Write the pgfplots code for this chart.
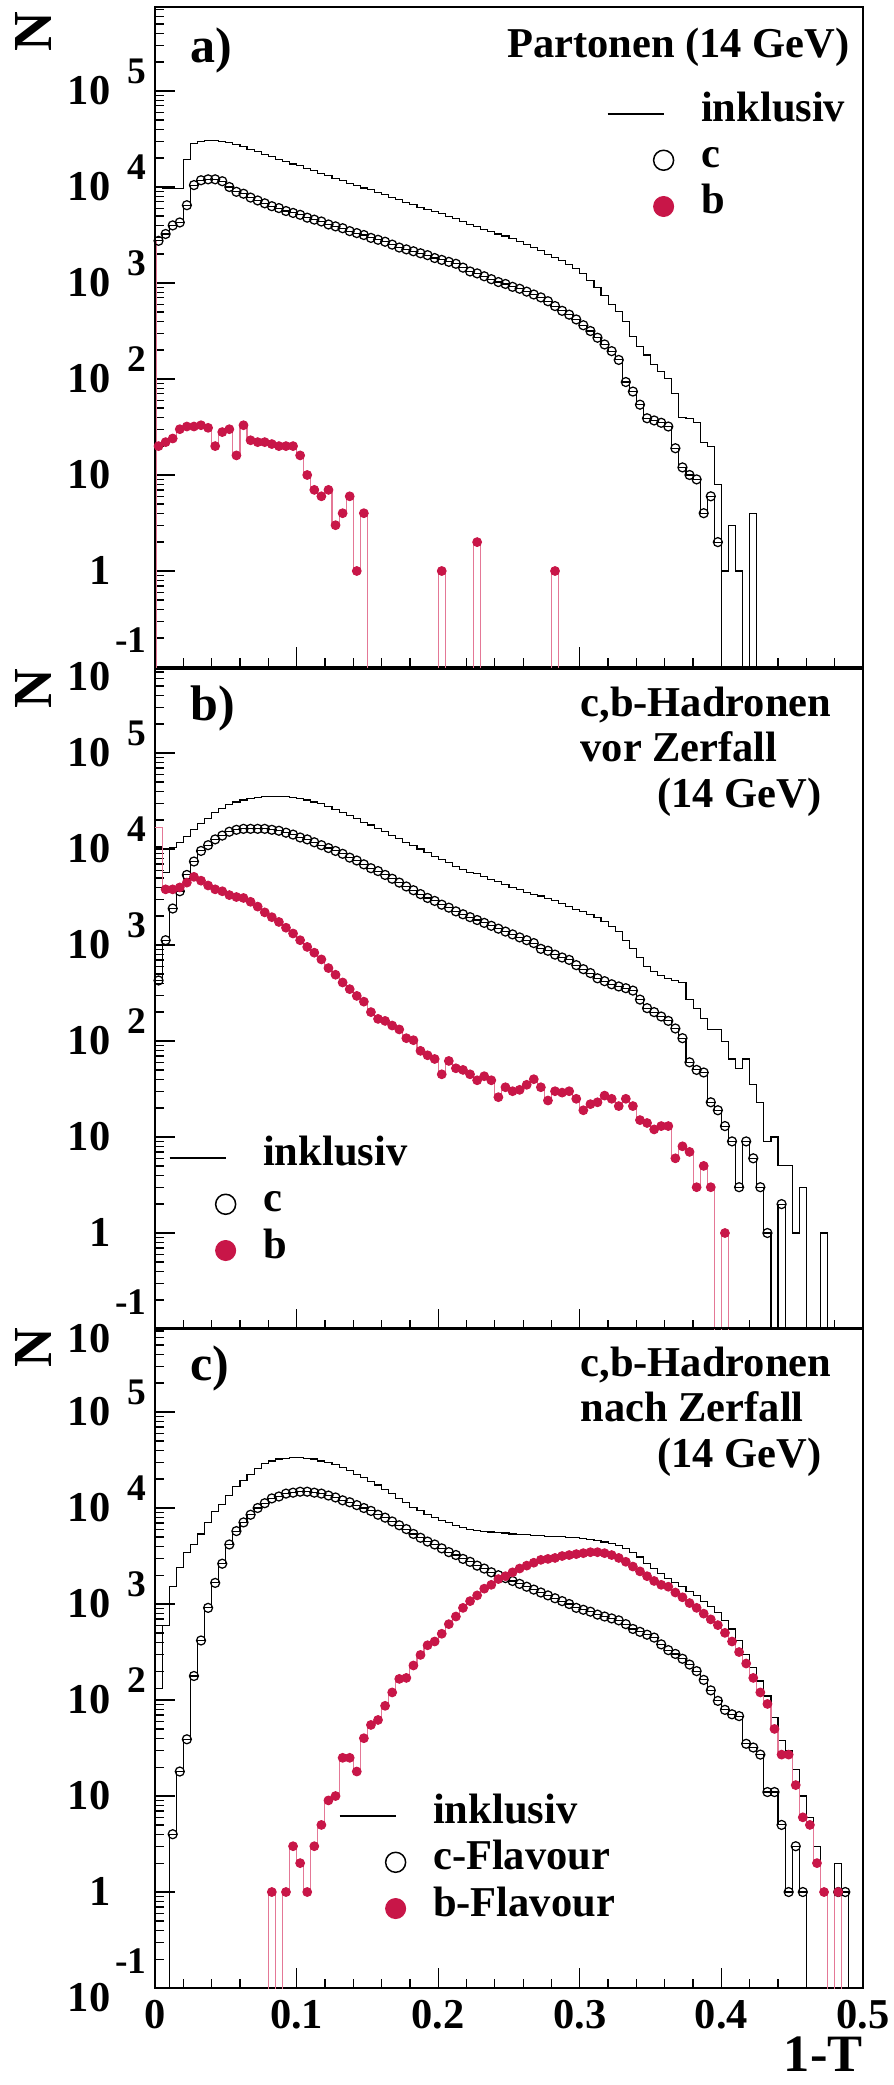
\documentclass[border=0pt]{standalone}
\usepackage{fontspec}
\setmainfont{Liberation Serif}
\usepackage{pgfplots}
\usepackage{pgfplotstable}
\pgfplotsset{compat=1.18}
\definecolor{bred}{RGB}{200,22,72}
\definecolor{bpink}{RGB}{228,120,150}
\newcommand{\fs}[1]{\fontsize{#1}{#1}\selectfont}
\newcommand{\yl}[4]{\makebox[0pt][r]{\smash{\raisebox{#3}{#1}}}\makebox[14.5pt][r]{\smash{\raisebox{#4}{\fs{15}#2}}}\vphantom{0}}

\pgfplotstableread{
x inc c b
0.0025 10000 2750 20
0.0075 9550 3240 22
0.0125 9550 3980 24
0.0175 9550 4270 30
0.0225 19500 6460 32
0.0275 28180 10470 32
0.0325 29510 11750 33
0.0375 30200 12020 31
0.0425 30200 12020 20
0.0475 29510 11480 28
0.0525 28840 10000 30
0.0575 27540 8910 16
0.0625 26300 8510 33
0.0675 24550 7760 23
0.0725 23440 7240 22
0.0775 21880 6760 22
0.0825 20890 6310 21
0.0875 19500 6030 20
0.0925 18620 5620 20
0.0975 17380 5370 20
0.1025 16600 5130 16
0.1075 15490 4790 10
0.1125 14790 4570 7
0.1175 13800 4370 6
0.1225 13180 4070 7
0.1275 12300 3890 3
0.1325 11750 3720 4
0.1375 10960 3470 6
0.1425 10470 3310 1
0.1475 9770 3160 4
0.1525 9330 2950 0
0.1575 8710 2820 0
0.1625 8320 2690 0
0.1675 7760 2510 0
0.1725 7410 2340 0
0.1775 6920 2240 0
0.1825 6610 2140 0
0.1875 6170 2040 0
0.1925 5890 1950 0
0.1975 5500 1820 0
0.2025 5250 1740 1
0.2075 4900 1660 0
0.2125 4680 1585 0
0.2175 4370 1445 0
0.2225 4070 1318 0
0.2275 3890 1259 2
0.2325 3630 1175 0
0.2375 3470 1096 0
0.2425 3240 1023 0
0.2475 3090 977 0
0.2525 2880 912 0
0.2575 2690 871 0
0.2625 2510 813 0
0.2675 2340 759 0
0.2725 2190 708 0
0.2775 2000 646 0
0.2825 1860 575 1
0.2875 1700 513 0
0.2925 1550 468 0
0.2975 1410 417 0
0.3025 1260 363 0
0.3075 1070 316 0
0.3125 890 269 0
0.3175 740 229 0
0.3225 600 195 0
0.3275 510 158 0
0.3325 400 93 0
0.3375 280 74 0
0.3425 220 54 0
0.3475 178 39 0
0.3525 141 37 0
0.3575 120 35 0
0.3625 102 32 0
0.3675 71 19 0
0.3725 40 12 0
0.3775 39 10 0
0.3825 35 9 0
0.3875 22 4 0
0.3925 20 6 0
0.3975 8 2 0
0.4025 1 0 0
0.4075 3 0 0
0.4125 1 0 0
0.4175 0 0 0
0.4225 4 0 0
0.4275 0 0 0
0.4325 0 0 0
0.4375 0 0 0
0.4425 0 0 0
0.4475 0 0 0
0.4525 0 0 0
0.4575 0 0 0
0.4625 0 0 0
0.4675 0 0 0
0.4725 0 0 0
0.4775 0 0 0
0.4825 0 0 0
0.4875 0 0 0
0.4925 0 0 0
0.4975 0 0 0
}\tA

\pgfplotstableread{
x inc c b
0.0025 10500 427 16600
0.0075 5750 1122 3800
0.0125 10470 2399 3800
0.0175 11750 3631 3981
0.0225 13490 5370 4467
0.0275 15850 7410 5129
0.0325 18620 9550 4677
0.0375 20890 10960 4169
0.0425 23990 12590 3802
0.0475 26300 13800 3631
0.0525 28840 15140 3311
0.0575 30900 15850 3162
0.0625 32360 16220 3090
0.0675 33880 16220 2818
0.0725 34670 16220 2512
0.0775 35480 16220 2188
0.0825 35480 15850 1950
0.0875 35480 15490 1738
0.0925 35480 14790 1514
0.0975 34670 14130 1318
0.1025 33880 13180 1122
0.1075 32360 12590 955
0.1125 30900 11750 832
0.1175 29510 10960 708
0.1225 27540 10230 575
0.1275 25700 9550 490
0.1325 23990 8910 407
0.1375 22390 8130 347
0.1425 20890 7590 295
0.1475 19050 6920 257
0.1525 17780 6310 200
0.1575 16220 5890 170
0.1625 15140 5370 162
0.1675 13800 4900 145
0.1725 12880 4470 132
0.1775 11750 4070 107
0.1825 10960 3720 102
0.1875 10000 3390 79
0.1925 9120 3090 71
0.1975 8320 2880 65
0.2025 7760 2630 45
0.2075 7240 2450 62
0.2125 6610 2240 52
0.2175 6170 2090 50
0.2225 5750 1950 45
0.2275 5500 1820 39
0.2325 5130 1700 43
0.2375 4790 1585 39
0.2425 4570 1480 26
0.2475 4270 1380 33
0.2525 3980 1290 30
0.2575 3800 1200 31
0.2625 3550 1122 35
0.2675 3390 1047 40
0.2725 3240 912 33
0.2775 3020 871 24
0.2825 2880 794 30
0.2875 2690 741 29
0.2925 2510 700 30
0.2975 2340 617 25
0.3025 2240 560 19
0.3075 2090 510 22
0.3125 1950 450 23
0.3175 1740 420 27
0.3225 1550 390 25
0.3275 1380 370 21
0.3325 1120 355 25
0.3375 912 335 21
0.3425 741 270 15
0.3475 603 220 14
0.3525 525 200 12
0.3575 479 180 13
0.3625 447 162 13
0.3675 427 135 6
0.3725 407 107 8
0.3775 269 60 7
0.3825 219 50 3
0.3875 170 47 5
0.3925 132 23 3
0.3975 132 19 0
0.4025 98 13 1
0.4075 65 9 0
0.4125 52 3 0
0.4175 65 9 0
0.4225 35 6 0
0.4275 23 3 0
0.4325 9 1 0
0.4375 10 0 0
0.4425 5 2 0
0.4475 5 0 0
0.4525 1 0 0
0.4575 3 0 0
0.4625 0 0 0
0.4675 0 0 0
0.4725 1 0 0
0.4775 0 0 0
0.4825 0 0 0
0.4875 0 0 0
0.4925 0 0 0
0.4975 0 0 0
}\tB

\pgfplotstableread{
x inc c b
0.0025 132 0 0
0.0075 603 0 0
0.0125 1514 4 0
0.0175 2399 18 0
0.0225 3467 39 0
0.0275 4169 178 0
0.0325 5370 417 0
0.0375 7079 912 0
0.0425 9120 1660 0
0.0475 10960 2630 0
0.0525 13490 4170 0
0.0575 16600 5750 0
0.0625 19500 7080 0
0.0675 22390 8510 0
0.0725 25700 10000 0
0.0775 28840 11220 0
0.0825 30900 12590 1
0.0875 32360 13180 0
0.0925 33110 14130 1
0.0975 33880 14450 3
0.1025 33880 14790 2
0.1075 33110 14790 1
0.1125 32360 14450 3
0.1175 30900 14130 5
0.1225 29510 13490 9
0.1275 28180 12880 10
0.1325 26300 12020 25
0.1375 24550 11480 25
0.1425 22390 10720 18
0.1475 20890 10000 40
0.1525 19050 9330 55
0.1575 17380 8510 62
0.1625 15490 7940 87
0.1675 14130 7240 120
0.1725 12590 6610 166
0.1775 11480 6030 170
0.1825 10230 5370 229
0.1875 9330 4900 295
0.1925 8510 4470 372
0.1975 7940 4170 407
0.2025 7410 3800 490
0.2075 7080 3470 617
0.2125 6610 3240 741
0.2175 6310 2950 912
0.2225 6030 2750 1072
0.2275 5890 2510 1230
0.2325 5750 2340 1445
0.2375 5620 2140 1585
0.2425 5560 1995 1820
0.2475 5500 1862 1950
0.2525 5370 1738 2138
0.2575 5310 1622 2344
0.2625 5250 1514 2512
0.2675 5190 1413 2692
0.2725 5130 1318 2884
0.2775 5070 1230 2951
0.2825 5010 1148 3020
0.2875 5010 1072 3162
0.2925 4900 1000 3236
0.2975 4900 912 3311
0.3025 4790 871 3388
0.3075 4680 832 3467
0.3125 4570 776 3467
0.3175 4420 741 3388
0.3225 4270 708 3236
0.3275 4070 676 3020
0.3325 3800 617 2754
0.3375 3470 550 2455
0.3425 3090 513 2188
0.3475 2630 479 1950
0.3525 2344 447 1738
0.3575 2089 380 1585
0.3625 1862 331 1514
0.3675 1660 302 1318
0.3725 1514 269 1175
0.3775 1349 234 1023
0.3825 1230 200 912
0.3875 1072 162 794
0.3925 933 126 692
0.3975 813 98 603
0.4025 676 79 501
0.4075 550 71 407
0.4125 417 68 316
0.4175 295 35 240
0.4225 219 32 170
0.4275 158 27 120
0.4325 110 11 91
0.4375 66 11 50
0.4425 38 5 27
0.4475 30 1 27
0.4525 19 3 13
0.4575 10 1 6
0.4625 6 0 5
0.4675 3 0 2
0.4725 1 0 1
0.4775 0 0 0
0.4825 2 1 1
0.4875 1 1 0
0.4925 0 0 0
0.4975 0 0 0
}\tC

\pgfplotsset{
  every axis/.append style={
    scale only axis, width=283.2pt, height=264pt,
    xmin=0, xmax=0.5, ymin=0.1, ymax=750000,
    axis line style={line width=0.6pt},
    tick align=inside, xtick pos=left, ytick pos=left,
    xtick={0,0.1,0.2,0.3,0.4,0.5}, minor x tick num=4,
    ytick={0.1,1,10,100,1000,10000,100000},
    minor ytick={0.2,0.3,0.4,0.5,0.6,0.7,0.8,0.9,2,3,4,5,6,7,8,9,20,30,40,50,60,70,80,90,200,300,400,500,600,700,800,900,2000,3000,4000,5000,6000,7000,8000,9000,20000,30000,40000,50000,60000,70000,80000,90000,200000,300000,400000,500000,600000,700000},
    yticklabels={{\yl{10}{-1}{-4pt}{11.5pt}},{\yl{1}{}{0pt}{0pt}},{\yl{10}{}{0pt}{0pt}},{\yl{10}{2}{0pt}{8.4pt}},{\yl{10}{3}{0pt}{8.4pt}},{\yl{10}{4}{0pt}{8.4pt}},{\yl{10}{5}{0pt}{8.4pt}}},
    yticklabel style={anchor=east, inner sep=0pt, xshift=-3.2pt, font=\bfseries\fs{17}},
    major tick length=8pt, minor tick length=3.6pt,
    every tick/.style={black, line width=0.5pt},
    legend cell align=left,
    legend style={draw=none, fill=none, inner sep=0pt, outer sep=0pt,
      row sep=4.5pt, column sep=11pt,
      nodes={inner sep=0pt, text height=10pt, text depth=4pt, font=\bfseries\fs{17}}},
  },
  histline/.style={const plot, line width=0.45pt, mark=none, forget plot},
  cmark/.style={only marks, mark=o, mark size=1.8pt, mark options={draw=black, line width=0.5pt}, forget plot},
  bmark/.style={only marks, mark=*, mark size=1.75pt, mark options={draw=bred, fill=bred}, forget plot},
}

\begin{document}
\begin{tikzpicture}
\path[use as bounding box] (0,0) rectangle (357.2pt,-834pt);

% ---------------- panel a
\begin{semilogyaxis}[at={(62pt,-2.8pt)}, anchor=north west, xticklabels={},
  legend style={at={(rel axis cs:0.6384,0.8644)}, anchor=north west}]
\addplot[histline, black] table[x expr=\thisrow{x}-0.0025, y expr={max(\thisrow{inc},0.001)}] {\tA};
\addplot[histline, black] table[x expr=\thisrow{x}-0.0025, y expr={max(\thisrow{c},0.001)}] {\tA};
\addplot[cmark] table[x=x, y expr={\thisrow{c}>0 ? \thisrow{c} : nan}] {\tA};
\addplot[histline, bpink] table[x expr=\thisrow{x}-0.0025, y expr={max(\thisrow{b},0.001)}] {\tA};
\addplot[bmark] table[x=x, y expr={\thisrow{b}>0 ? \thisrow{b} : nan}] {\tA};
\addplot[bpink, line width=0.45pt, forget plot] coordinates {(0.0012,0.001) (0.0012,2750)};
\addlegendimage{legend image code/.code={\draw[black, line width=0.5pt] (-22.4pt,0pt) -- (0pt,0pt);}}
\addlegendentry{inklusiv}
\addlegendimage{legend image code/.code={\draw[black, line width=0.6pt, mark=o, mark size=4pt] plot coordinates {(0pt,0pt)};}}
\addlegendentry{c}
\addlegendimage{legend image code/.code={\draw[bred, mark=*, mark size=4pt] plot coordinates {(0pt,0pt)};}}
\addlegendentry{b}
\end{semilogyaxis}

% ---------------- panel b
\begin{semilogyaxis}[at={(62pt,-267.6pt)}, anchor=north west, xticklabels={},
  legend style={at={(rel axis cs:0.0198,0.2856)}, anchor=north west}]
\addplot[histline, black] table[x expr=\thisrow{x}-0.0025, y expr={max(\thisrow{inc},0.001)}] {\tB};
\addplot[histline, black] table[x expr=\thisrow{x}-0.0025, y expr={max(\thisrow{c},0.001)}] {\tB};
\addplot[cmark] table[x=x, y expr={\thisrow{c}>0 ? \thisrow{c} : nan}] {\tB};
\addplot[histline, bpink] table[x expr=\thisrow{x}-0.0025, y expr={max(\thisrow{b},0.001)}] {\tB};
\addplot[bmark, skip coords between index={0}{1}] table[x=x, y expr={\thisrow{b}>0 ? \thisrow{b} : nan}] {\tB};
\addlegendimage{legend image code/.code={\draw[black, line width=0.5pt] (-22.4pt,0pt) -- (0pt,0pt);}}
\addlegendentry{inklusiv}
\addlegendimage{legend image code/.code={\draw[black, line width=0.6pt, mark=o, mark size=4pt] plot coordinates {(0pt,0pt)};}}
\addlegendentry{c}
\addlegendimage{legend image code/.code={\draw[bred, mark=*, mark size=4pt] plot coordinates {(0pt,0pt)};}}
\addlegendentry{b}
\end{semilogyaxis}

% ---------------- panel c
\begin{semilogyaxis}[at={(62pt,-531.2pt)}, anchor=north west,
  xticklabels={\textbf{0},\textbf{0.1},\textbf{0.2},\textbf{0.3},\textbf{0.4},\textbf{0.5}},
  xticklabel style={anchor=north, inner sep=0pt, yshift=-4.8pt, font=\bfseries\fs{17}},
  legend style={at={(rel axis cs:0.2599,0.2871)}, anchor=north west}]
\addplot[histline, black] table[x expr=\thisrow{x}-0.0025, y expr={max(\thisrow{inc},0.001)}] {\tC};
\addplot[histline, black] table[x expr=\thisrow{x}-0.0025, y expr={max(\thisrow{c},0.001)}] {\tC};
\addplot[cmark] table[x=x, y expr={\thisrow{c}>0 ? \thisrow{c} : nan}] {\tC};
\addplot[histline, bpink] table[x expr=\thisrow{x}-0.0025, y expr={max(\thisrow{b},0.001)}] {\tC};
\addplot[bmark] table[x=x, y expr={\thisrow{b}>0 ? \thisrow{b} : nan}] {\tC};
\addlegendimage{legend image code/.code={\draw[black, line width=0.5pt] (-22.4pt,0pt) -- (0pt,0pt);}}
\addlegendentry{inklusiv}
\addlegendimage{legend image code/.code={\draw[black, line width=0.6pt, mark=o, mark size=4pt] plot coordinates {(0pt,0pt)};}}
\addlegendentry{c-Flavour}
\addlegendimage{legend image code/.code={\draw[bred, mark=*, mark size=4pt] plot coordinates {(0pt,0pt)};}}
\addlegendentry{b-Flavour}
\end{semilogyaxis}

% ---------------- texts
\begin{scope}[every node/.style={inner sep=0pt}]
\node[rotate=90, font=\bfseries\fs{22}] at (13.2pt,-12.8pt) {N};
\node[rotate=90, font=\bfseries\fs{22}] at (13.2pt,-275.6pt) {N};
\node[rotate=90, font=\bfseries\fs{22}] at (13.2pt,-539.2pt) {N};
\node[anchor=base west, font=\bfseries\fs{20}] at (76pt,-25.2pt) {a)};
\node[anchor=base west, font=\bfseries\fs{20}] at (76pt,-288pt) {b)};
\node[anchor=base west, font=\bfseries\fs{20}] at (76pt,-552pt) {c)};
\node[anchor=base east, font=\bfseries\fs{17}] at (340pt,-23.2pt) {Partonen (14 GeV)};
\node[anchor=base west, font=\bfseries\fs{17}] at (232pt,-286.4pt) {c,b-Hadronen};
\node[anchor=base west, font=\bfseries\fs{17}] at (232pt,-304.4pt) {vor Zerfall};
\node[anchor=base east, font=\bfseries\fs{17}] at (328.8pt,-322.8pt) {(14 GeV)};
\node[anchor=base west, font=\bfseries\fs{17}] at (232pt,-550.4pt) {c,b-Hadronen};
\node[anchor=base west, font=\bfseries\fs{17}] at (232pt,-568.4pt) {nach Zerfall};
\node[anchor=base east, font=\bfseries\fs{17}] at (328.8pt,-586.8pt) {(14 GeV)};
\node[anchor=base east, font=\bfseries\fs{21}] at (345.2pt,-828.5pt) {1-T};
\end{scope}
\end{tikzpicture}
\end{document}
